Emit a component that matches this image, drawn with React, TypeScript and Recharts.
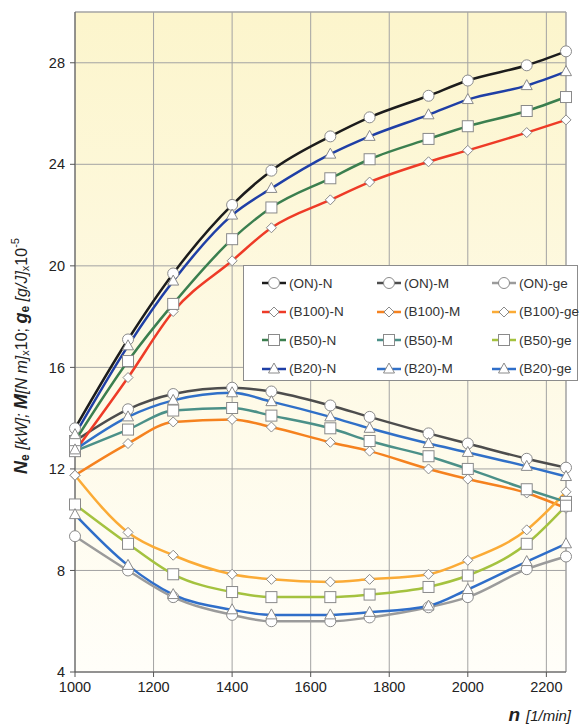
import React from 'react';
import { LineChart, Line, XAxis, YAxis, CartesianGrid, Legend, ReferenceLine, Label } from 'recharts';

// engine speed [1/min] at the measured (marked) points
const RPM = [1000, 1135, 1250, 1400, 1500, 1650, 1750, 1900, 2000, 2150, 2250];

// effective power N_e [kW]
const ON_N = [13.6, 17.1, 19.7, 22.4, 23.75, 25.1, 25.85, 26.7, 27.3, 27.9, 28.45];
const B100_N = [12.7, 15.6, 18.2, 20.2, 21.5, 22.6, 23.3, 24.1, 24.55, 25.25, 25.75];
const B50_N = [13.1, 16.25, 18.5, 21.05, 22.3, 23.45, 24.2, 25.0, 25.5, 26.1, 26.65];
const B20_N = [13.35, 16.85, 19.4, 22.0, 23.05, 24.4, 25.1, 25.95, 26.55, 27.1, 27.65];

// torque M [N m] x10
const ON_M = [13.1, 14.35, 14.95, 15.2, 15.05, 14.5, 14.05, 13.4, 13.0, 12.4, 12.05];
const B100_M = [11.75, 13.0, 13.85, 13.95, 13.65, 13.05, 12.7, 12.0, 11.6, 11.05, 10.45];
const B50_M = [12.7, 13.55, 14.3, 14.4, 14.1, 13.6, 13.1, 12.5, 12.0, 11.2, 10.7];
const B20_M = [12.75, 14.05, 14.7, 15.0, 14.65, 14.05, 13.6, 13.0, 12.65, 12.1, 11.7];

// specific fuel consumption g_e [g/J] x10^-5
const ON_GE = [9.35, 8.0, 6.95, 6.25, 6.0, 6.0, 6.15, 6.55, 6.95, 8.05, 8.55];
const B100_GE = [11.75, 9.5, 8.6, 7.85, 7.65, 7.55, 7.65, 7.85, 8.4, 9.6, 11.1];
const B50_GE = [10.6, 9.05, 7.85, 7.15, 6.95, 6.95, 7.05, 7.35, 7.8, 9.05, 10.55];
const B20_GE = [10.2, 8.2, 7.05, 6.45, 6.25, 6.25, 6.35, 6.6, 7.25, 8.35, 9.05];

const X_TICKS = [1000, 1200, 1400, 1600, 1800, 2000, 2200];
const Y_TICKS = [4, 8, 12, 16, 20, 24, 28];

type Shape = 'circle' | 'diamond' | 'square' | 'triangle';

// legend order (row by row)
const SERIES: { key: string; name: string; color: string; shape: Shape; values: number[] }[] = [
  { key: 'onN', name: '(ON)-N', color: '#1c1c1c', shape: 'circle', values: ON_N },
  { key: 'onM', name: '(ON)-M', color: '#4d4d4d', shape: 'circle', values: ON_M },
  { key: 'onGe', name: '(ON)-ge', color: '#9b9b9b', shape: 'circle', values: ON_GE },
  { key: 'b100N', name: '(B100)-N', color: '#ee3b27', shape: 'diamond', values: B100_N },
  { key: 'b100M', name: '(B100)-M', color: '#f5821f', shape: 'diamond', values: B100_M },
  { key: 'b100Ge', name: '(B100)-ge', color: '#fbab36', shape: 'diamond', values: B100_GE },
  { key: 'b50N', name: '(B50)-N', color: '#3b7f4f', shape: 'square', values: B50_N },
  { key: 'b50M', name: '(B50)-M', color: '#4b9088', shape: 'square', values: B50_M },
  { key: 'b50Ge', name: '(B50)-ge', color: '#a4c23f', shape: 'square', values: B50_GE },
  { key: 'b20N', name: '(B20)-N', color: '#1f3fa6', shape: 'triangle', values: B20_N },
  { key: 'b20M', name: '(B20)-M', color: '#3070c8', shape: 'triangle', values: B20_M },
  { key: 'b20Ge', name: '(B20)-ge', color: '#2f6ec9', shape: 'triangle', values: B20_GE },
];

const rows = RPM.map((n, i) => {
  const r: Record<string, number> = { rpm: n };
  SERIES.forEach((s) => { r[s.key] = s.values[i]; });
  return r;
});

const FONT = '"Liberation Sans", Arial, sans-serif';

function Marker({ shape, cx, cy }: { shape: Shape; cx: number; cy: number }) {
  const st = { fill: '#fff', stroke: '#8a8a8a', strokeWidth: 1 };
  if (shape === 'circle') return <circle cx={cx} cy={cy} r={5.5} {...st} />;
  if (shape === 'square') return <rect x={cx - 5.5} y={cy - 5.5} width={11} height={11} {...st} />;
  if (shape === 'triangle')
    return <polygon points={`${cx},${cy - 6} ${cx + 5.5},${cy + 4} ${cx - 5.5},${cy + 4}`} {...st} />;
  return <polygon points={`${cx},${cy - 5} ${cx + 5},${cy} ${cx},${cy + 5} ${cx - 5},${cy}`} {...st} />;
}

const dotFor = (shape: Shape) => (p: any) => (
  <Marker key={`d-${p.index}`} shape={shape} cx={p.cx} cy={p.cy} />
);

const LegendBox = () => (
  <div
    style={{
      width: '100%', height: '100%', boxSizing: 'border-box', background: '#fff',
      border: '1px solid #8c8c8c', display: 'grid', gridTemplateColumns: '115px 115px 100px',
      gridAutoRows: '28.5px', padding: '3px 0 0 18px', fontFamily: FONT, fontSize: 13.5, color: '#333',
    }}
  >
    {SERIES.map((s) => (
      <div key={s.key} style={{ display: 'flex', alignItems: 'center', whiteSpace: 'nowrap' }}>
        <svg width={24} height={14}>
          <line x1={0} y1={7} x2={24} y2={7} stroke={s.color} strokeWidth={2.5} />
          <Marker shape={s.shape} cx={12} cy={7} />
        </svg>
        <span style={{ marginLeft: 3 }}>{s.name}</span>
      </div>
    ))}
  </div>
);

const YTitle = () => (
  <text transform="rotate(-90, 21, 356)" x={21} y={356} textAnchor="middle" dominantBaseline="central"
    fontFamily={FONT} fill="#222">
    <tspan fontWeight="bold" fontStyle="italic" fontSize={18}>N</tspan>
    <tspan fontWeight="bold" fontSize={12} dy={4}>e</tspan>
    <tspan fontStyle="italic" fontSize={16} dy={-4}> [kW]; </tspan>
    <tspan fontWeight="bold" fontStyle="italic" fontSize={18}>M</tspan>
    <tspan fontStyle="italic" fontSize={16}>[N m]</tspan>
    <tspan fontSize={11} dy={4}>x</tspan>
    <tspan fontSize={16} dy={-4}>10; </tspan>
    <tspan fontWeight="bold" fontStyle="italic" fontSize={18}>g</tspan>
    <tspan fontWeight="bold" fontSize={12} dy={4}>e</tspan>
    <tspan fontStyle="italic" fontSize={16} dy={-4}> [g/J]</tspan>
    <tspan fontSize={11} dy={4}>x</tspan>
    <tspan fontSize={16} dy={-4}>10</tspan>
    <tspan fontSize={11} dy={-6}>-5</tspan>
  </text>
);

const XTitle = () => (
  <text x={571} y={721} textAnchor="end" fontFamily={FONT} fill="#222">
    <tspan fontWeight="bold" fontStyle="italic" fontSize={19}>n</tspan>
    <tspan fontStyle="italic" fontSize={15} dx={6}>[1/min]</tspan>
  </text>
);

export default function App() {
  const tick = { fill: '#222', fontSize: 14.5, fontFamily: FONT };
  return (
    <div style={{ position: 'absolute', left: 0, top: 0, background: '#fff' }}>
      <LineChart width={583} height={724} data={rows} margin={{ top: 12, right: 17, left: 0, bottom: 0 }}>
        <defs>
          <linearGradient id="bgGrad" x1="0" y1="0" x2="0" y2="1">
            <stop offset="0%" stopColor="#fcf5cc" />
            <stop offset="55%" stopColor="#fefae6" />
            <stop offset="100%" stopColor="#fffef9" />
          </linearGradient>
        </defs>
        <CartesianGrid stroke="#a3a3a3" fill="url(#bgGrad)" fillOpacity={1} />
        <XAxis dataKey="rpm" type="number" domain={[1000, 2250]} ticks={X_TICKS} tick={tick}
          stroke="#555" tickSize={5} tickMargin={5} height={52}>
          <Label content={<XTitle />} />
        </XAxis>
        <YAxis type="number" domain={[4, 30]} ticks={Y_TICKS} tick={tick} stroke="#555"
          tickSize={5} tickMargin={5} width={75}>
          <Label content={<YTitle />} />
        </YAxis>
        <ReferenceLine x={2250} stroke="#a3a3a3" />
        <ReferenceLine y={30} stroke="#a3a3a3" />
        {SERIES.map((s) => (
          <Line key={s.key} dataKey={s.key} name={s.name} type="monotone" stroke={s.color}
            strokeWidth={2.5} dot={dotFor(s.shape)} activeDot={false} isAnimationActive={false} />
        ))}
        <Legend layout="horizontal" verticalAlign="middle" align="center" content={<LegendBox />}
          wrapperStyle={{ position: 'absolute', left: 243, top: 265, width: 335, height: 116 }} />
      </LineChart>
    </div>
  );
}
